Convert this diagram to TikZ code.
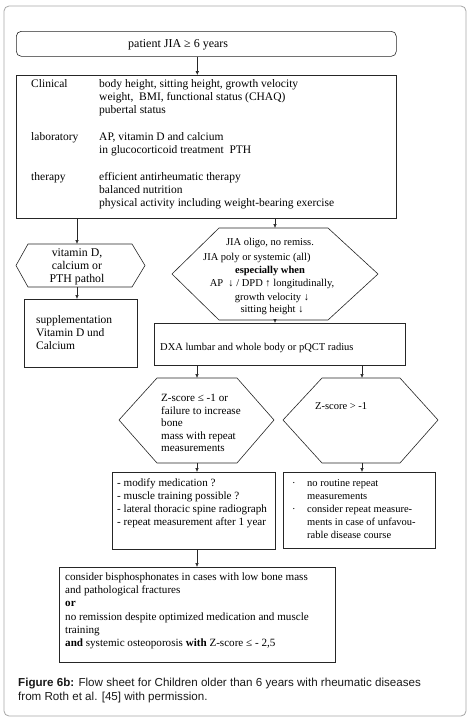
\documentclass[tikz,border=0pt]{standalone}
\usepackage{fontspec}
\setmainfont{Liberation Serif}
\newfontfamily\capfont{Liberation Sans}
\usetikzlibrary{arrows.meta}
\begin{document}
\begin{tikzpicture}[x=1pt,y=-1pt,
  box/.style={draw=black!85, line width=0.6pt, inner sep=0pt, anchor=north west},
  hexa/.style={draw=black!85, line width=0.6pt},
  arr/.style={draw=black!85, line width=0.6pt, -{Latex[length=4pt,width=3.6pt]}},
  txt/.style={anchor=base west, inner sep=0pt, font=\fontsize{10.5}{13}\selectfont},
  ctxt/.style={anchor=base, inner sep=0pt, font=\fontsize{10.5}{13}\selectfont},
  big/.style={font=\fontsize{11.5}{13}\selectfont},
  mid/.style={font=\fontsize{11.1}{13}\selectfont},
  captxt/.style={anchor=base west, inner sep=0pt, font=\capfont\fontsize{11.6}{14}\selectfont, text=black!90}
]
\useasboundingbox (0,0) rectangle (471,724);
\draw[black!35, line width=0.8pt, rounded corners=5pt] (4,6) rectangle (466,716);

% boxes
\node[box, rounded corners=5pt, minimum width=380pt, minimum height=25pt] (top) at (16,31) {};
\node[box, minimum width=380pt, minimum height=143pt] (clin) at (16,75) {};
\node[box, minimum width=113pt, minimum height=68pt] (supp) at (24,299) {};
\node[box, minimum width=251pt, minimum height=42pt] (dxa) at (154,323) {};
\node[box, minimum width=163pt, minimum height=77pt] (lbox) at (112,472) {};
\node[box, minimum width=152pt, minimum height=76pt] (rbox) at (283,472) {};
\node[box, minimum width=276pt, minimum height=95pt] (bbox) at (59,567) {};

% hexagons
\draw[hexa] (16,265.5) -- (28,244) -- (132,244) -- (145,265.5) -- (132,287) -- (28,287) -- cycle;
\coordinate (vtop) at (77,244); \coordinate (vbot) at (77,287);
\draw[hexa] (172,274) -- (219,228) -- (328,228) -- (378,274) -- (328,320) -- (219,320) -- cycle;
\coordinate (btop) at (275,228); \coordinate (bbot) at (275,320);
\draw[hexa] (119,420) -- (157,378) -- (237,378) -- (274,420) -- (237,463) -- (157,463) -- cycle;
\coordinate (zltop) at (197,378); \coordinate (zlbot) at (197,463);
\draw[hexa] (283,420) -- (322,378) -- (400,378) -- (438,420) -- (400,463) -- (322,463) -- cycle;
\coordinate (zrtop) at (362,378); \coordinate (zrbot) at (362,463);

% arrows
\draw[arr] ([xshift=-9pt]top.south) -- ([xshift=-9pt]clin.north);
\draw[arr] (clin.south -| vtop) -- (vtop);
\draw[arr] (clin.south -| btop) -- (btop);
\draw[arr] (vbot) -- (supp.north -| vbot);
\draw[arr] (bbot) -- (dxa.north -| bbot);
\draw[arr] (dxa.south -| zltop) -- (zltop);
\draw[arr] (dxa.south -| zrtop) -- (zrtop);
\draw[arr] (zlbot) -- (lbox.north -| zlbot);
\draw[arr] (zrbot) -- (rbox.north -| zrbot);
\draw[arr] (lbox.south -| zlbot) -- (bbox.north -| zlbot);

% texts
\node[txt, font=\fontsize{12}{13}\selectfont] (t0) at (128,47) {patient JIA ≥ 6 years};
\node[txt, big] (c1) at (31,87) {Clinical};
\node[txt, big] (c2) at (99,87) {body height, sitting height, growth velocity};
\node[txt, big] (c3) at (99,100.3) {weight,\ \ BMI, functional status (CHAQ)};
\node[txt, big] (c4) at (99,113.6) {pubertal status};
\node[txt, big] (c5) at (31,140.4) {laboratory};
\node[txt, big] (c6) at (99,140.4) {AP, vitamin D and calcium};
\node[txt, big] (c7) at (99,153.7) {in glucocorticoid treatment\ \ PTH};
\node[txt, big] (c8) at (31,180.4) {therapy};
\node[txt, big] (c9) at (99,180.4) {efficient antirheumatic therapy};
\node[txt, big] (c10) at (99,193) {balanced nutrition};
\node[txt, big] (c11) at (99,206.4) {physical activity including weight-bearing exercise};

\node[ctxt, font=\fontsize{11.8}{13}\selectfont] (v1) at (77,256.5) {vitamin D,};
\node[ctxt, font=\fontsize{11.8}{13}\selectfont] (v2) at (77,269.5) {calcium or};
\node[ctxt, font=\fontsize{11.8}{13}\selectfont] (v3) at (77,282.5) {PTH pathol};

\node[txt, big] (s1) at (36,323.5) {supplementation};
\node[txt, big] (s2) at (36,336.5) {Vitamin D und};
\node[txt, big] (s3) at (36,349.5) {Calcium};

\node[ctxt] (h1) at (270,245.2) {JIA oligo, no remiss.};
\node[txt] (h2) at (203,260.2) {JIA poly or systemic (all)};
\node[ctxt] (h3) at (270,273.5) {\textbf{especially when}};
\node[ctxt] (h4) at (272,286.8) {AP\ \ ↓ / DPD ↑ longitudinally,};
\node[ctxt] (h5) at (272,300.2) {growth velocity ↓};
\node[ctxt] (h6) at (272,312.8) {sitting height ↓};

\node[txt] (d1) at (160,350.5) {DXA lumbar and whole body or pQCT radius};

\node[txt, mid] (zl1) at (161,401.5) {Z-score ≤ -1 or};
\node[txt, mid] (zl2) at (161,414) {failure to increase};
\node[txt, mid] (zl3) at (161,426.5) {bone};
\node[txt, mid] (zl4) at (161,439) {mass with repeat};
\node[txt, mid] (zl5) at (161,451.5) {measurements};

\node[txt] (zr1) at (315,409.5) {Z-score > -1};

\node[txt, mid] (l1) at (117,486.5) {- modify medication ?};
\node[txt, mid] (l2) at (117,499.6) {- muscle training possible ?};
\node[txt, mid] (l3) at (117,512.7) {- lateral thoracic spine radiograph};
\node[txt, mid] (l4) at (117,525.8) {- repeat measurement after 1 year};

\node[txt] (rb1) at (292,486.5) {·};
\node[txt] (r1) at (307,486.5) {no routine repeat};
\node[txt] (r2) at (307,499.6) {measurements};
\node[txt] (rb2) at (292,512.7) {·};
\node[txt] (r3) at (307,512.7) {consider repeat measure-};
\node[txt] (r4) at (307,525.8) {ments in case of unfavou-};
\node[txt] (r5) at (307,538.9) {rable disease course};

\node[txt, mid] (b1) at (65,580.5) {consider bisphosphonates in cases with low bone mass};
\node[txt, mid] (b2) at (65,593.7) {and pathological fractures};
\node[txt, mid] (b3) at (65,606.9) {\textbf{or}};
\node[txt, mid] (b4) at (65,620.1) {no remission despite optimized medication and muscle};
\node[txt, mid] (b5) at (65,633.3) {training};
\node[txt, mid] (b6) at (65,646.5) {\textbf{and} systemic osteoporosis \textbf{with} Z-score ≤ - 2,5};

\node[captxt] (f1) at (18,686) {\textbf{Figure 6b:} Flow sheet for Children older than 6 years with rheumatic diseases};
\node[captxt] (f2) at (18,700.5) {from Roth et al. [45] with permission.};
\end{tikzpicture}
\end{document}
